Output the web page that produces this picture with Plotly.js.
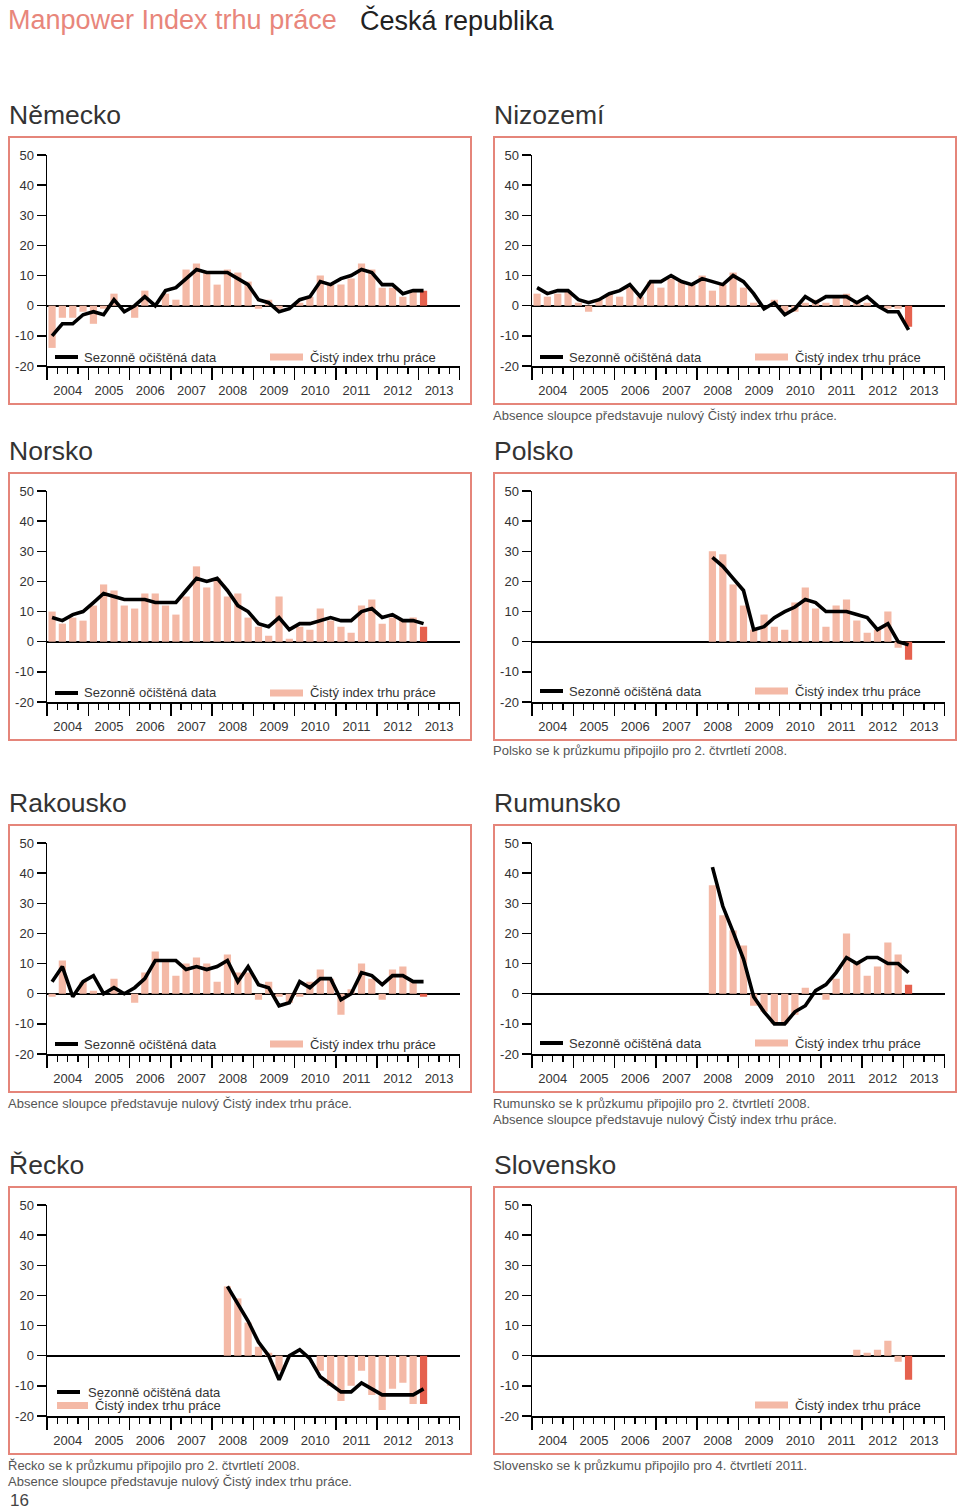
<!DOCTYPE html>
<html>
<head>
<meta charset="utf-8">
<script src="https://cdn.plot.ly/plotly-3.0.1.min.js"></script>
<style>html,body{margin:0;padding:0;background:#fff;}#chart{width:960px;height:1512px;}</style>
</head>
<body>
<div id="chart"></div>
<script>
// ---------- DATA ----------
const quarters = ['2004-Q1','2004-Q2','2004-Q3','2004-Q4','2005-Q1','2005-Q2','2005-Q3','2005-Q4',
  '2006-Q1','2006-Q2','2006-Q3','2006-Q4','2007-Q1','2007-Q2','2007-Q3','2007-Q4',
  '2008-Q1','2008-Q2','2008-Q3','2008-Q4','2009-Q1','2009-Q2','2009-Q3','2009-Q4',
  '2010-Q1','2010-Q2','2010-Q3','2010-Q4','2011-Q1','2011-Q2','2011-Q3','2011-Q4',
  '2012-Q1','2012-Q2','2012-Q3','2012-Q4','2013-Q1'];
const yTickVals = [-20,-10,0,10,20,30,40,50];
const yTickText = ['-20','-10','0','10','20','30','40','50'];

const nemeckoNet = [-14,-4,-4,-2,-6,-1,4,0,-4,5,0,4,2,12,14,11,7,12,11,8,-1,2,-1,0,1,3,10,7,7,9,14,12,6,6,3,5,5];
const nemeckoSA  = [-10,-6,-6,-3,-2,-3,2,-2,0,3,0,5,6,9,12,11,11,11,9,7,2,1,-2,-1,2,3,8,7,9,10,12,11,7,7,4,5,5];

const nizozemiNet = [4,3,4,5,1,-2,2,4,3,6,3,8,6,9,8,7,10,5,7,11,6,1,0,2,-2,-2,1,2,1,3,4,1,1,0,-1,-1,-7];
const nizozemiSA  = [6,4,5,5,2,1,2,4,5,7,3,8,8,10,8,7,9,8,7,10,8,4,-1,1,-3,-1,3,1,3,3,3,1,3,0,-2,-2,-8];

const norskoNet = [10,6,8,7,12,19,17,12,11,16,16,12,9,15,25,18,21,15,16,8,5,2,15,1,5,4,11,7,5,3,12,14,6,8,7,8,5];
const norskoSA  = [8,7,9,10,13,16,15,14,14,14,13,13,13,17,21,20,21,17,12,10,6,5,8,4,6,6,7,8,7,7,10,11,8,9,7,7,6];

const polskoStart = '2008-Q2';
const polskoNet = [30,29,19,12,4,9,5,4,13,18,11,5,12,14,7,3,4,10,-2,-6];
const polskoSA  = [28,25,21,17,4,5,8,10,11.5,14,13,10,10,10,9,8,4,6,0,-1];

const rakouskoNet = [-1,11,0,4,1,0,5,0,-3,7,14,11,6,10,12,10,4,13,7,7,-2,4,-1,-3,-1,4,8,5,-7,1.5,10,5,-2,8,9,4,-1];
const rakouskoSA  = [4,9,-1,4,6,0,2,0,2,5,11,11,11,8,9,8,9,11,4,9,3,2,-4,-3,4,2,5,5,-2,0,7,6,3,6,6,4,4];

const rumunskoStart = '2008-Q2';
const rumunskoNet = [36,26,21,16,-4,-6,-10,-10,-7,2,0,-2,5,20,10,6,9,17,13,3];
const rumunskoSA  = [42,29,20.5,11.5,-1,-6,-10,-10,-6,-4,1,3,7,12,10,12,12,10,10,7];

const reckoStart = '2008-Q2';
const reckoNet = [23,19,11,3,1,-5,0,0,0,-5,-10,-15,-10,-5,-13,-18,-11,-9,-16,-16];
const reckoSA  = [23,17,11.5,4.5,0,-8,0,2,-1,-7,-9.5,-12,-12,-9,-11,-13,-13,-13,-13,-11];

const slovenskoStart = '2011-Q4';
const slovenskoNet = [2,1,2,5,-2,-8];

const seriesNames = ['Sezonně očištěná data', 'Čistý index trhu práce'];
const mainTitle = 'Manpower Index trhu práce';
const subTitle = 'Česká republika';
const pageNo = '16';
const noteZero = 'Absence sloupce představuje nulový Čistý index trhu práce.';

// ---------- STYLE / LAYOUT ----------
const W = 960, H = 1512;
const BAR = '#f4b9a6', BAR_LAST = '#e5614e', FRAME = '#e5857a', TXT = '#333';
const FONT = 'Liberation Sans, Arial, Helvetica, sans-serif';
const px = x => x / W;
const py = y => 1 - y / H;
const rowOff = [0, 336, 688, 1050];
const colOff = [0, 485];

function qDate(q) {
  const y = q.slice(0, 4), n = +q.slice(6);
  return y + ['-02-15', '-05-16', '-08-16', '-11-15'][n - 1];
}
const qIndex = q => quarters.indexOf(q);
const QMS = 91.3 * 86400000;

const panels = [
  {name: 'Německo', row: 0, col: 0, start: '2004-Q1', net: nemeckoNet, sa: nemeckoSA, leg: 'row', legY: 357, notes: []},
  {name: 'Nizozemí', row: 0, col: 1, start: '2004-Q1', net: nizozemiNet, sa: nizozemiSA, leg: 'row', legY: 357, notes: [noteZero]},
  {name: 'Norsko', row: 1, col: 0, start: '2004-Q1', net: norskoNet, sa: norskoSA, leg: 'row', legY: 357, notes: []},
  {name: 'Polsko', row: 1, col: 1, start: polskoStart, net: polskoNet, sa: polskoSA, leg: 'row', legY: 355, notes: ['Polsko se k průzkumu připojilo pro 2. čtvrtletí 2008.']},
  {name: 'Rakousko', row: 2, col: 0, start: '2004-Q1', net: rakouskoNet, sa: rakouskoSA, leg: 'row', legY: 356, notes: [noteZero]},
  {name: 'Rumunsko', row: 2, col: 1, start: rumunskoStart, net: rumunskoNet, sa: rumunskoSA, leg: 'row', legY: 355, notes: ['Rumunsko se k průzkumu připojilo pro 2. čtvrtletí 2008.', noteZero]},
  {name: 'Řecko', row: 3, col: 0, start: reckoStart, net: reckoNet, sa: reckoSA, leg: 'stack', legY: 342, notes: ['Řecko se k průzkumu připojilo pro 2. čtvrtletí 2008.', noteZero]},
  {name: 'Slovensko', row: 3, col: 1, start: slovenskoStart, net: slovenskoNet, sa: null, leg: 'barOnly', legY: 355, notes: ['Slovensko se k průzkumu připojilo pro 4. čtvrtletí 2011.']}
];

const data = [];
const layout = {
  width: W, height: H, margin: {l: 0, r: 0, t: 0, b: 0},
  paper_bgcolor: '#fff', plot_bgcolor: 'rgba(0,0,0,0)',
  showlegend: false, font: {family: FONT, color: TXT, size: 13},
  shapes: [], annotations: []
};

function ann(text, x, y, size, color) {
  layout.annotations.push({
    text: text, xref: 'paper', yref: 'paper', x: px(x), y: py(y),
    xanchor: 'left', yanchor: 'middle', showarrow: false,
    font: {family: FONT, size: size, color: color}
  });
}
function rect(x0, y0, x1, y1, style) {
  layout.shapes.push(Object.assign({type: 'rect', xref: 'paper', yref: 'paper',
    x0: px(x0), x1: px(x1), y0: py(y1), y1: py(y0)}, style));
}

ann(mainTitle, 6, 20, 27, '#e8867b');
ann(subTitle, 358, 20, 27, '#222');
ann(pageNo, 8, 1500, 17, '#444');

panels.forEach((p, k) => {
  const n = k + 1;
  const xs = n === 1 ? 'x' : 'x' + n, ys = n === 1 ? 'y' : 'y' + n;
  const xk = n === 1 ? 'xaxis' : 'xaxis' + n, yk = n === 1 ? 'yaxis' : 'yaxis' + n;
  const ro = rowOff[p.row], co = colOff[p.col];
  const s = qIndex(p.start);
  const qs = quarters.slice(s, s + p.net.length).map(qDate);
  const colors = p.net.map((v, i) => i === p.net.length - 1 ? BAR_LAST : BAR);

  data.push({type: 'bar', x: qs, y: p.net, xaxis: xs, yaxis: ys, name: seriesNames[1],
    marker: {color: colors, line: {width: 0}}, width: 0.7 * QMS, hoverinfo: 'skip'});
  if (p.sa) {
    data.push({type: 'scatter', mode: 'lines', x: qs, y: p.sa, xaxis: xs, yaxis: ys, name: seriesNames[0],
      line: {color: '#000', width: 3.6, shape: 'linear'}, hoverinfo: 'skip'});
  }

  layout[xk] = {
    type: 'date', range: ['2004-01-01', '2014-01-01'],
    domain: [px(47 + co), px(459.7 + co)], anchor: ys,
    tick0: '2004-01-01', dtick: 'M12', ticklabelmode: 'period', tickformat: '%Y',
    ticks: 'outside', ticklen: 12, tickwidth: 1.5, tickcolor: '#000',
    minor: {ticks: 'outside', ticklen: 6, tickwidth: 1.3, tickcolor: '#000', dtick: 'M3', tick0: '2004-01-01', showgrid: false},
    showline: true, linecolor: '#000', linewidth: 1.5, showgrid: false, zeroline: false,
    tickfont: {family: FONT, size: 13, color: TXT}, fixedrange: true
  };
  layout[yk] = {
    range: [-20, 50], domain: [py(366 + ro), py(155 + ro)], anchor: xs,
    tickmode: 'array', tickvals: yTickVals, ticktext: yTickText,
    ticks: 'outside', ticklen: 9, tickwidth: 1.5, tickcolor: '#000',
    showline: true, linecolor: '#000', linewidth: 1.5, showgrid: false,
    zeroline: true, zerolinecolor: '#000', zerolinewidth: 1.6,
    tickfont: {family: FONT, size: 13, color: TXT}, fixedrange: true
  };

  // frame and title
  rect(9 + co, 137 + ro, 471 + co, 404 + ro, {line: {color: FRAME, width: 2}, fillcolor: 'rgba(0,0,0,0)', layer: 'below'});
  ann(p.name, 7 + co, 115 + ro, 26.5, TXT);

  // legend
  const lineSample = (x, y) => layout.shapes.push({type: 'line', xref: 'paper', yref: 'paper',
    x0: px(x), x1: px(x + 23), y0: py(y), y1: py(y), line: {color: '#000', width: 4}});
  const y = p.legY + ro;
  if (p.leg === 'row') {
    lineSample(55 + co, y);
    ann(seriesNames[0], 82 + co, y, 13, TXT);
    rect(270 + co, y - 3.5, 303 + co, y + 3.5, {line: {width: 0}, fillcolor: BAR});
    ann(seriesNames[1], 308 + co, y, 13, TXT);
  } else if (p.leg === 'stack') {
    lineSample(57 + co, y);
    ann(seriesNames[0], 86 + co, y, 13, TXT);
    rect(57 + co, y + 10, 88 + co, y + 17, {line: {width: 0}, fillcolor: BAR});
    ann(seriesNames[1], 93 + co, y + 13.5, 13, TXT);
  } else {
    rect(270 + co, y - 3.5, 303 + co, y + 3.5, {line: {width: 0}, fillcolor: BAR});
    ann(seriesNames[1], 308 + co, y, 13, TXT);
  }

  // footnotes below the frame
  const noteX = p.col ? 491 : 6;
  p.notes.forEach((t, i) => ann(t, noteX, 415 + ro + i * 16, 13, '#555'));
});

Plotly.newPlot('chart', data, layout, {staticPlot: true, displayModeBar: false});
</script>
</body>
</html>
